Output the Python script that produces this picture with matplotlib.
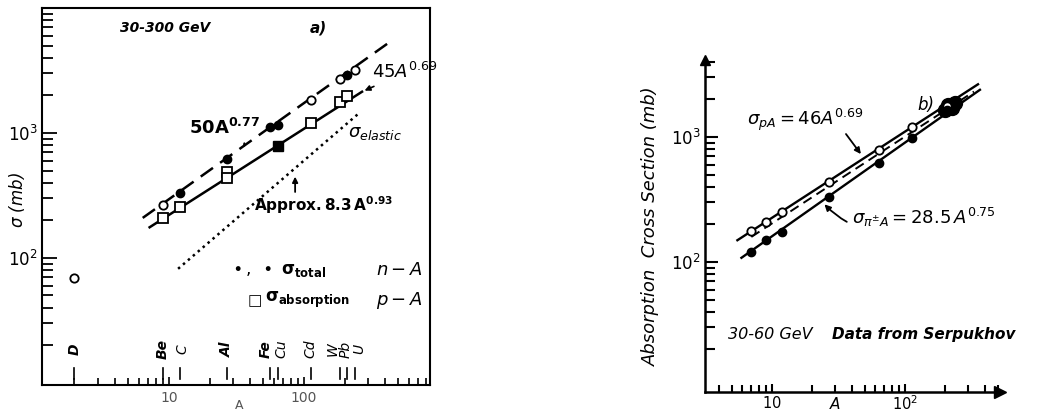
import numpy as np
import matplotlib
matplotlib.use('Agg')
from matplotlib import pyplot as plt
from matplotlib import ticker
from matplotlib.transforms import blended_transform_factory

# ---- panel a): 30-300 GeV, n-A and p-A ----
el_names = ['D', 'Be', 'C', 'Al', 'Fe', 'Cu', 'Cd', 'W', 'Pb', 'U']
el_A = [2, 9, 12, 27, 56, 64, 112, 184, 207, 238]
el_label_A = [2, 9, 12.5, 27, 52, 68, 112, 163, 205, 256]
el_bold = [True, True, False, True, True, False, False, False, False, False]

tot_open_A = [2, 9, 112, 184, 238]
tot_open_sig = [69, 265, 1840, 2700, 3190]
tot_fill_A = [12, 27, 56, 64, 207]
tot_fill_sig = [331, 620, 1115, 1160, 2920]

abs_open_A = [9, 12, 27, 27, 112, 184, 207]
abs_open_sig = [209, 256, 488, 437, 1200, 1780, 1960]
abs_fill_A = [64]
abs_fill_sig = [787]

# fit lines: (norm, power, A range)
fit_total = (50, 0.77, 6.4, 434)
fit_abs = (45, 0.69, 7.2, 269)
fit_el = (8.3, 0.93, 11.7, 260)

# ---- panel b): 30-60 GeV Serpukhov ----
pA_A = [7, 9, 12, 27, 64, 112, 207]
pA_sig = [176, 209, 253, 440, 780, 1200, 1780]
piA_A = [7, 9, 12, 27, 64, 112, 207]
piA_sig = [120, 150, 174, 331, 620, 982, 1640]
heavy_A = [200, 212, 225, 238]
heavy_sig = [1640, 1800, 1700, 1880]

fit_pA = (46, 0.69, 5.5, 354)
fit_piA = (28.5, 0.75, 5.9, 366)
fit_mid = (41, 0.695, 7, 330)


def powerline(ax, fit, **kw):
    c, p, a0, a1 = fit
    a = np.logspace(np.log10(a0), np.log10(a1), 50)
    ax.plot(a, c * a ** p, **kw)


fig = plt.figure(figsize=(10.43, 4.13), dpi=100)
plt.rcParams['font.family'] = 'DejaVu Sans'

# ================= panel a =================
ax = fig.add_axes([42 / 1043, 28 / 413, 388 / 1043, 377 / 413])
ax.set_xscale('log')
ax.set_yscale('log')
ax.set_xlim(1.15, 857)
ax.set_ylim(9.6, 10000)

powerline(ax, fit_total, color='black', lw=1.8, dashes=(6, 3.5))
powerline(ax, fit_abs, color='black', lw=1.8)
powerline(ax, fit_el, color='black', lw=1.8, ls=(0, (1, 1.6)))

ax.plot(tot_open_A, tot_open_sig, 'o', ms=6, mfc='white', mec='black', mew=1.3, ls='none')
ax.plot(tot_fill_A, tot_fill_sig, 'o', ms=6, mfc='black', mec='black', ls='none')
ax.plot(abs_open_A, abs_open_sig, 's', ms=7, mfc='white', mec='black', mew=1.3, ls='none')
ax.plot(abs_fill_A, abs_fill_sig, 's', ms=7, mfc='black', mec='black', ls='none')

ax.tick_params(which='both', direction='in', top=False, right=False)
ax.tick_params(axis='y', which='major', length=11, width=1.3, labelsize=12, pad=3)
ax.tick_params(axis='y', which='minor', length=8, width=1.3)
ax.tick_params(axis='x', which='major', length=6, width=1.2, labelsize=10, pad=4)
ax.tick_params(axis='x', which='minor', length=5, width=1.2)
ax.set_yticks([100, 1000])
ax.set_yticklabels([r'$10^2$', r'$10^3$'])
ax.yaxis.set_minor_locator(ticker.LogLocator(subs=np.arange(2, 10)))
ax.yaxis.set_minor_formatter(ticker.NullFormatter())
ax.set_xticks([10, 100])
ax.set_xticklabels(['10', '100'], color='#555555')
ax.xaxis.set_minor_locator(ticker.LogLocator(subs=np.arange(2, 10)))
ax.xaxis.set_minor_formatter(ticker.NullFormatter())
for s in ax.spines.values():
    s.set_linewidth(1.5)
fig.text(17 / 1043, 1 - 200 / 413, r'$\sigma$ (mb)', rotation=90, fontsize=12,
         style='italic', ha='center', va='center')

tr = blended_transform_factory(ax.transData, ax.transAxes)
for name, a, la, b in zip(el_names, el_A, el_label_A, el_bold):
    ax.text(la, 0.095, name, transform=tr, rotation=90, ha='center', va='center',
            fontsize=10, style='italic', fontweight='bold' if b else 'normal')
    ax.plot([a, a], [0.015, 0.045], transform=tr, color='black', lw=1.2)
ax.text(33, -0.055, 'A', transform=tr, ha='center', va='center', fontsize=9, color='#555555')

ax.text(0.2, 0.947, '30-300 GeV', transform=ax.transAxes, fontsize=10,
        style='italic', fontweight='bold', va='center')
ax.text(0.69, 0.947, 'a)', transform=ax.transAxes, fontsize=11,
        style='italic', fontweight='bold', va='center')
ax.annotate(r'$\mathbf{50A^{0.77}}$', xy=(36, 50 * 36 ** 0.77), xytext=(14, 1100),
            fontsize=13, va='center',
            arrowprops=dict(arrowstyle='-', color='black', lw=1.5,
                            connectionstyle='angle3,angleA=0,angleB=80'))
ax.annotate(r'$45A^{0.69}$', xy=(269, 45 * 269 ** 0.69), xytext=(320, 3050),
            fontsize=13, va='center',
            arrowprops=dict(arrowstyle='-|>', color='black', lw=1.2, mutation_scale=8))
ax.text(212, 1000, r'$\sigma_{elastic}$', fontsize=13, va='center')
ax.text(43, 265, r'$\mathbf{Approx.8.3\,A^{0.93}}$', fontsize=11, va='center')
ax.annotate('', xy=(86, 470), xytext=(86, 320),
            arrowprops=dict(arrowstyle='-|>', color='black', lw=1.3, mutation_scale=8))
ax.text(0.49, 0.305, r'$\bullet\, ,\ \bullet\ \mathbf{\sigma_{total}}$',
        transform=ax.transAxes, fontsize=12, va='center')
ax.text(0.86, 0.305, r'$n-A$', transform=ax.transAxes, fontsize=13, va='center')
ax.text(0.53, 0.225, '□', transform=ax.transAxes, fontsize=11, va='center')
ax.text(0.575, 0.225, r'$\mathbf{\sigma_{absorption}}$', transform=ax.transAxes,
        fontsize=12, va='center')
ax.text(0.86, 0.225, r'$p-A$', transform=ax.transAxes, fontsize=13, va='center')

# ================= panel b =================
bx = fig.add_axes([705 / 1043, 21 / 413, 295 / 1043, 332 / 413])
bx.set_xscale('log')
bx.set_yscale('log')
bx.set_xlim(3.14, 518)
bx.set_ylim(9.1, 4130)
bx.spines['top'].set_visible(False)
bx.spines['right'].set_visible(False)
for s in ('left', 'bottom'):
    bx.spines[s].set_linewidth(1.8)
bx.plot(1, 0, '>k', ms=8, transform=bx.transAxes, clip_on=False)
bx.plot(0, 1, '^k', ms=7, transform=bx.transAxes, clip_on=False)

powerline(bx, fit_pA, color='black', lw=1.7)
powerline(bx, fit_piA, color='black', lw=1.7)
powerline(bx, fit_mid, color='black', lw=1.4, dashes=(5, 3))
bx.plot(heavy_A, heavy_sig, 'o', ms=10, color='black', ls='none')
bx.plot(pA_A, pA_sig, 'o', ms=6, mfc='white', mec='black', mew=1.3, ls='none')
bx.plot(piA_A, piA_sig, 'o', ms=6, color='black', ls='none')

bx.tick_params(which='both', direction='in', top=False, right=False)
bx.tick_params(axis='y', which='major', length=9, width=1.5, labelsize=12, pad=3)
bx.tick_params(axis='y', which='minor', length=7, width=1.5)
bx.tick_params(axis='x', which='major', length=6, width=1.5, labelsize=10.5, pad=2)
bx.tick_params(axis='x', which='minor', length=5, width=1.5)
bx.set_yticks([100, 1000])
bx.set_yticklabels([r'$10^2$', r'$10^3$'])
bx.yaxis.set_minor_locator(ticker.LogLocator(subs=np.arange(2, 10)))
bx.yaxis.set_minor_formatter(ticker.NullFormatter())
bx.set_xticks([10, 100])
bx.set_xticklabels([r'$10$', r'$10^2$'])
bx.xaxis.set_minor_locator(ticker.LogLocator(subs=np.arange(2, 10)))
bx.xaxis.set_minor_formatter(ticker.NullFormatter())
trb = blended_transform_factory(bx.transData, bx.transAxes)
bx.text(30, -0.012, r'$A$', transform=trb, ha='center', va='top', fontsize=11)
bx.set_ylabel('Absorption  Cross Section (mb)', fontsize=13, style='italic', labelpad=8)

bx.text(0.72, 0.85, 'b)', transform=bx.transAxes, fontsize=12, style='italic')
bx.text(6.5, 1370, r'$\sigma_{pA}=46A^{0.69}$', fontsize=13, va='center')
bx.annotate('', xy=(48, 700), xytext=(35, 1100),
            arrowprops=dict(arrowstyle='-|>', color='black', lw=1.3, mutation_scale=9))
bx.annotate(r'$\sigma_{\pi^{\pm}A}=28.5\,A^{0.75}$', xy=(24, 300), xytext=(40, 229),
            fontsize=13, va='center',
            arrowprops=dict(arrowstyle='-|>', color='black', lw=1.3, mutation_scale=9,
                            connectionstyle='arc3,rad=-0.4'))
bx.text(0.078, 0.172, '30-60 GeV', transform=bx.transAxes, fontsize=11.5,
        style='italic', va='center')
bx.text(0.43, 0.172, 'Data from Serpukhov', transform=bx.transAxes, fontsize=11,
        style='italic', fontweight='bold', va='center')

fig.savefig('out.png', dpi=100)
